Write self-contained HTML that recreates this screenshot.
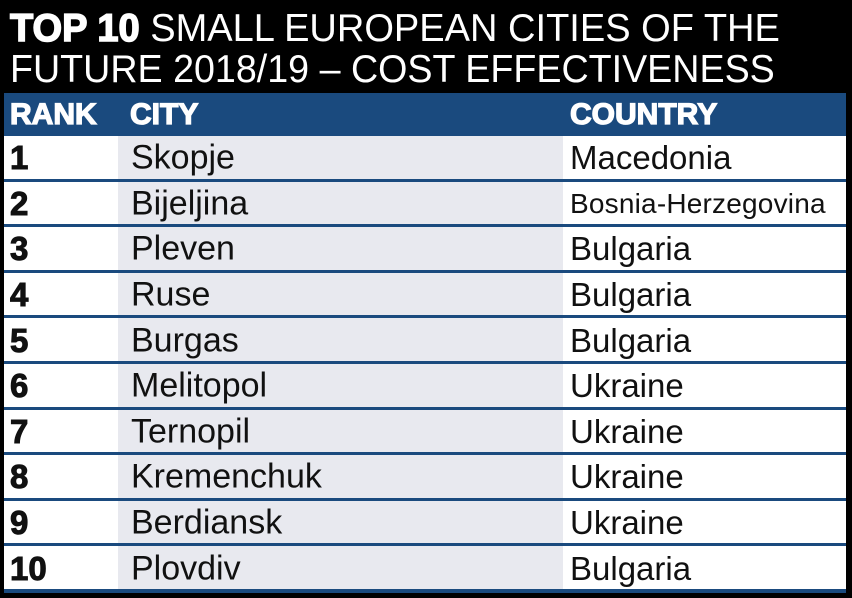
<!DOCTYPE html>
<html><head><style>
*{margin:0;padding:0;box-sizing:border-box}
body{width:852px;height:598px;background:#000;font-family:"Liberation Sans",sans-serif;position:relative;overflow:hidden}
.t{position:absolute;left:10px;color:#fff;font-size:39px;white-space:nowrap;transform-origin:left top;line-height:40px}
.t b{font-weight:900;-webkit-text-stroke:1.5px #fff}
.tab{position:absolute;left:4px;top:93px;width:842px;height:500px;background:#1a4a7e}
.hd{position:absolute;left:0;top:0;width:842px;height:42px;color:#fff;font-weight:bold;font-size:30px;-webkit-text-stroke:1.3px #fff}
.hd span,.r span{position:absolute;top:52%;transform:translateY(-50%);white-space:nowrap}
.r{position:absolute;left:0;width:842px;height:42.6px;font-size:33px;color:#111}
.r .c1{position:absolute;left:0;top:0;width:114px;height:100%;background:#fff}
.r .c2{position:absolute;left:114px;top:0;width:445px;height:100%;background:#e8e9ef}
.r .c3{position:absolute;left:559px;top:0;width:283px;height:100%;background:#fff}
</style></head><body>
<div class="t" style="top:9px;transform:scaleX(0.975)"><b>TOP 10</b> SMALL EUROPEAN CITIES OF THE</div>
<div class="t" style="top:50px;transform:scaleX(0.965)">FUTURE 2018/19 – COST EFFECTIVENESS</div>
<div class="tab">
<div class="hd"><span style="left:6px">RANK</span><span style="left:126px">CITY</span><span style="left:566px">COUNTRY</span></div>
<div id="rows"></div>
</div>
<script>
var d=[["1","Skopje","Macedonia"],["2","Bijeljina","Bosnia-Herzegovina"],["3","Pleven","Bulgaria"],["4","Ruse","Bulgaria"],["5","Burgas","Bulgaria"],["6","Melitopol","Ukraine"],["7","Ternopil","Ukraine"],["8","Kremenchuk","Ukraine"],["9","Berdiansk","Ukraine"],["10","Plovdiv","Bulgaria"]];
var h="";
d.forEach(function(r,i){
var top=43+i*45.6;
var fs=r[2].length>12?'font-size:28px;letter-spacing:0.2px;':'';
h+='<div class="r" style="top:'+top+'px"><div class="c1"></div><div class="c2"></div><div class="c3"></div>'+
'<span style="left:6px;font-weight:900;-webkit-text-stroke:1px #111">'+r[0]+'</span>'+
'<span style="left:127px;font-size:34px">'+r[1]+'</span>'+
'<span style="left:566px;'+fs+'">'+r[2]+'</span></div>';
});
document.getElementById("rows").innerHTML=h;
</script>
</body></html>
